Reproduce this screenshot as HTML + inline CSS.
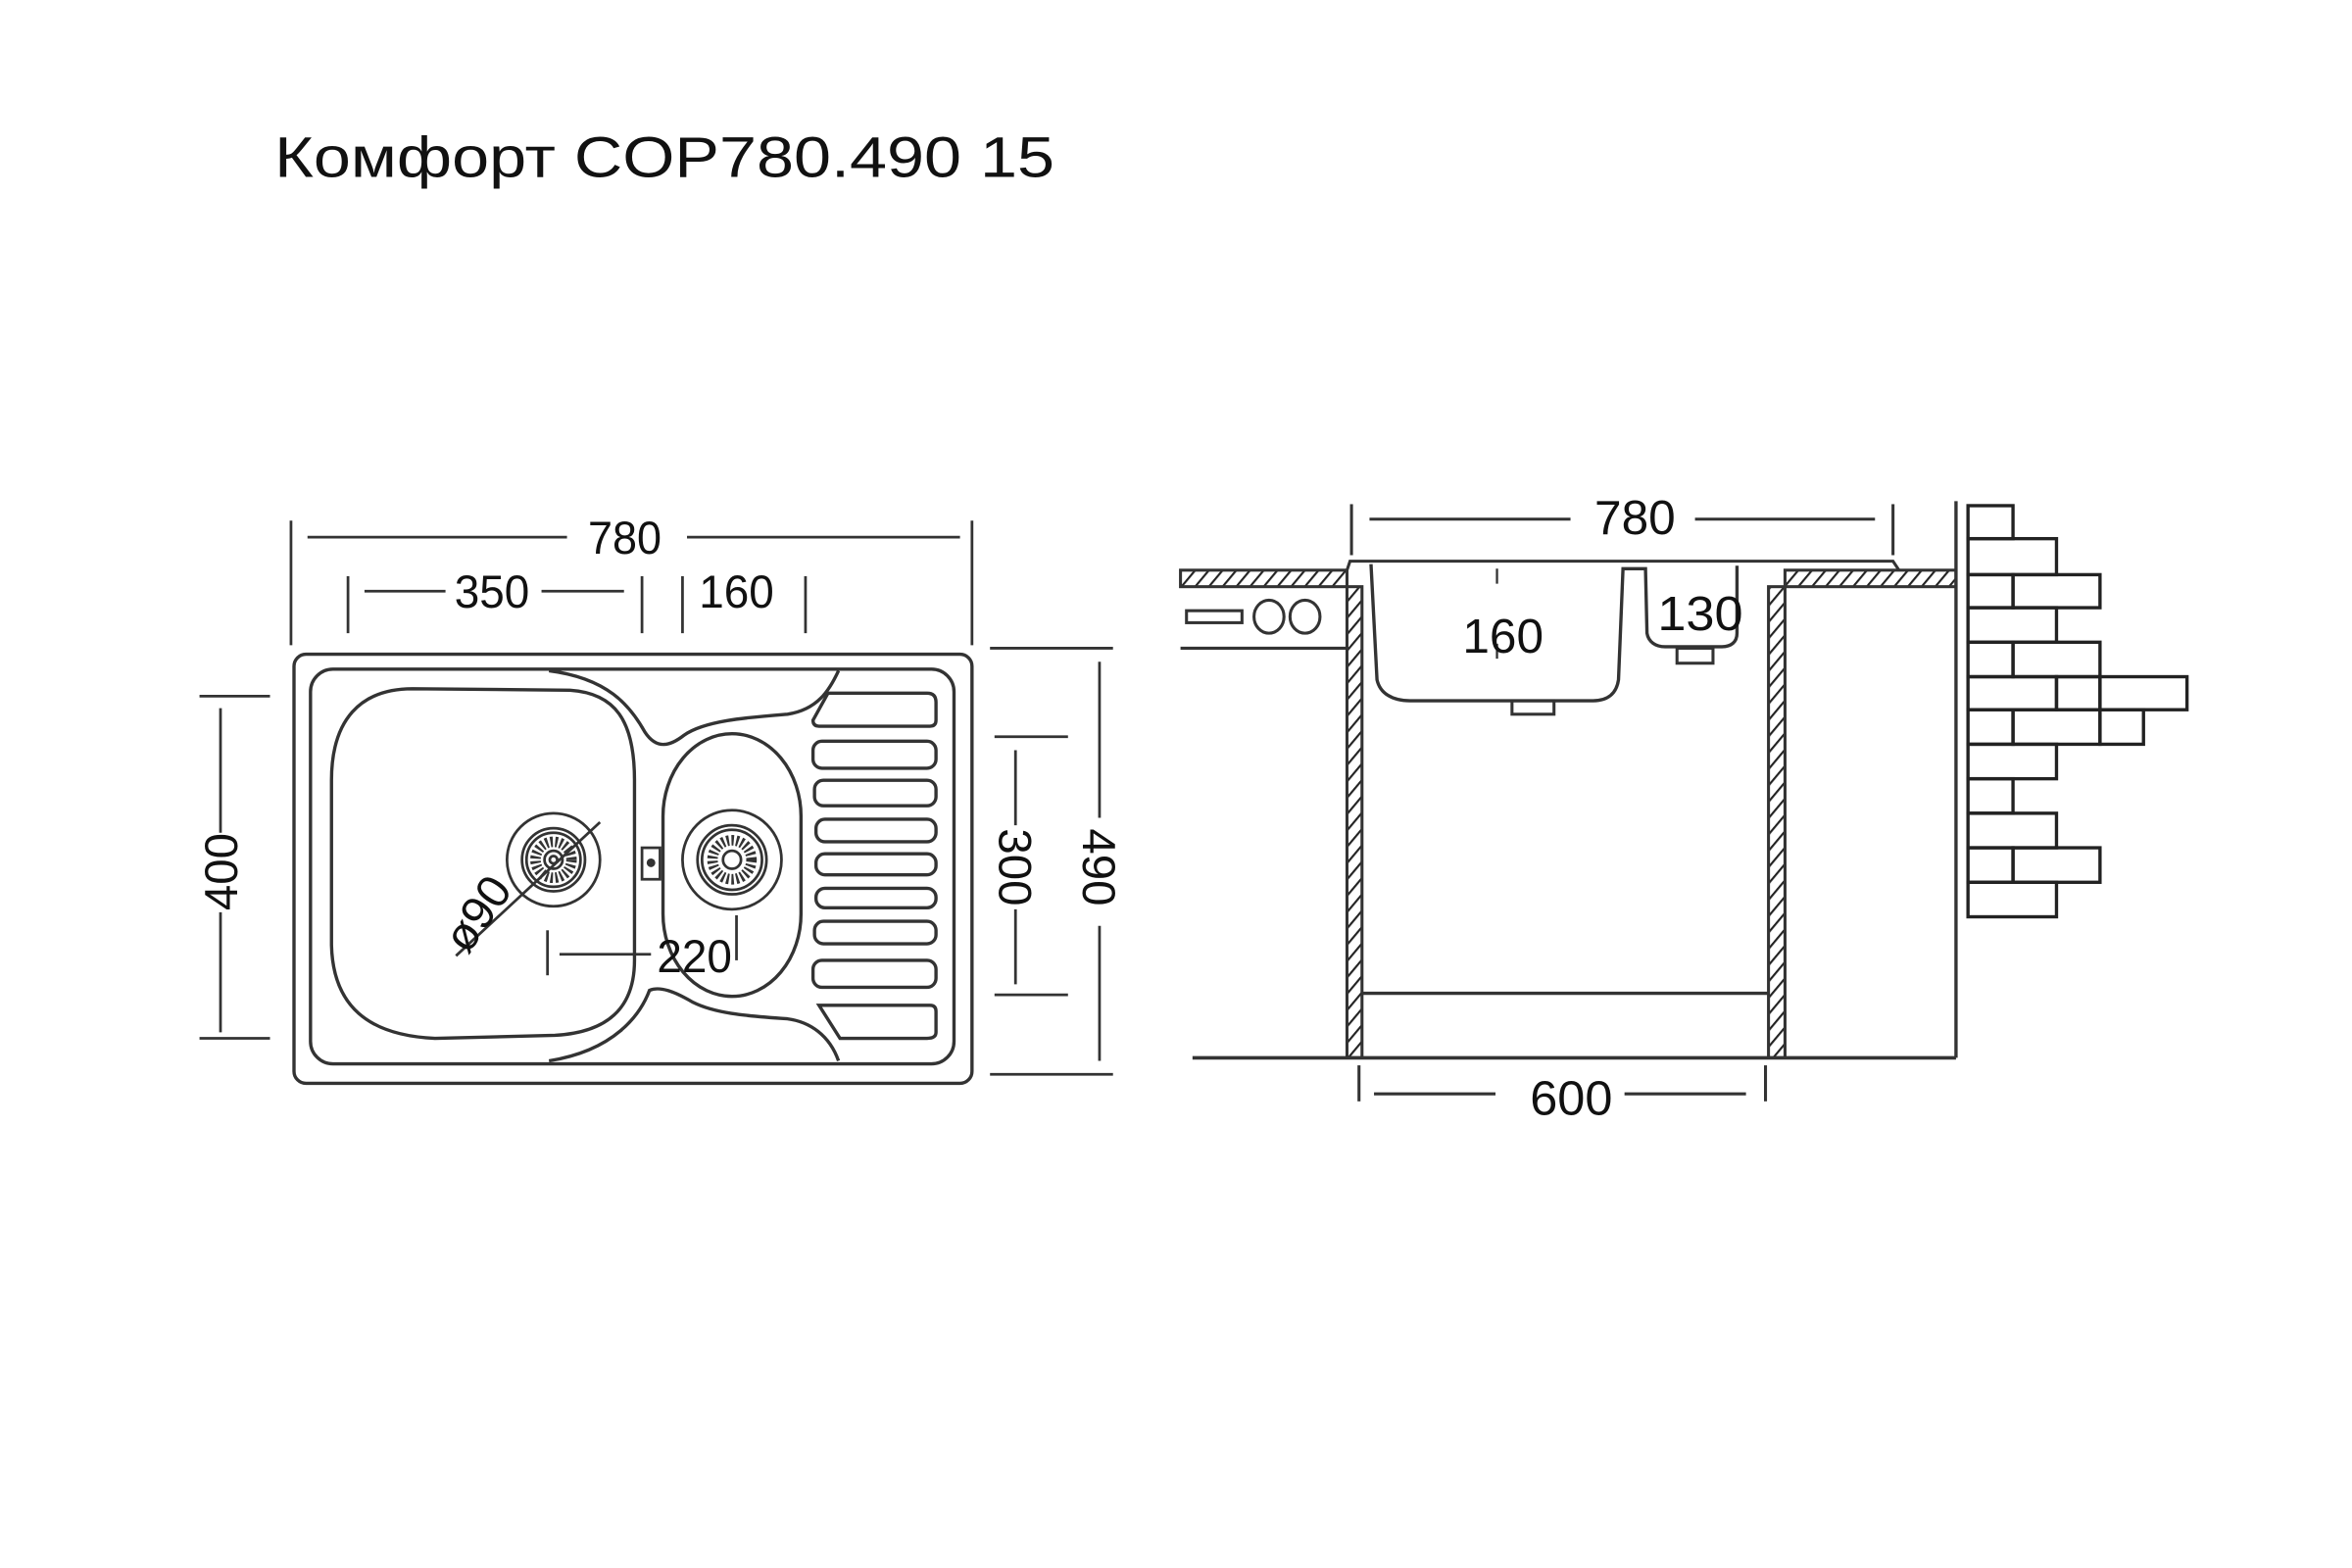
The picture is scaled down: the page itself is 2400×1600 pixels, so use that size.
<!DOCTYPE html>
<html><head><meta charset="utf-8"><style>
html,body{margin:0;padding:0;background:#fff;}
svg{display:block;}
text{font-family:"Liberation Sans",sans-serif;fill:#111;}
</style></head><body>
<svg width="2400" height="1600" viewBox="0 0 1568 1045" preserveAspectRatio="none" xmlns="http://www.w3.org/2000/svg">
<defs>
<pattern id="h" width="7" height="7" patternUnits="userSpaceOnUse" patternTransform="rotate(40)">
<line x1="0" y1="0" x2="0" y2="7" stroke="#222" stroke-width="2.8"/>
</pattern>
</defs>
<text x="183" y="118" font-size="38" textLength="520" lengthAdjust="spacingAndGlyphs">Комфорт COP780.490 15</text>

<!-- LEFT VIEW -->
<g stroke="#333" stroke-width="1.8" fill="none">
<line x1="194" y1="347" x2="194" y2="430"/><line x1="648" y1="347" x2="648" y2="430"/>
<line x1="205" y1="358" x2="378" y2="358"/><line x1="458" y1="358" x2="640" y2="358"/>
<line x1="232" y1="384" x2="232" y2="422"/><line x1="428" y1="384" x2="428" y2="422"/>
<line x1="455" y1="384" x2="455" y2="422"/><line x1="537" y1="384" x2="537" y2="422"/>
<line x1="243" y1="394" x2="297" y2="394"/><line x1="361" y1="394" x2="416" y2="394"/>
<line x1="133" y1="464" x2="180" y2="464"/><line x1="133" y1="692" x2="180" y2="692"/>
<line x1="147" y1="472" x2="147" y2="555"/><line x1="147" y1="608" x2="147" y2="688"/>
<line x1="663" y1="491" x2="712" y2="491"/><line x1="663" y1="663" x2="712" y2="663"/>
<line x1="677" y1="500" x2="677" y2="550"/><line x1="677" y1="606" x2="677" y2="656"/>
<line x1="660" y1="432" x2="742" y2="432"/><line x1="660" y1="716" x2="742" y2="716"/>
<line x1="733" y1="441" x2="733" y2="545"/><line x1="733" y1="617" x2="733" y2="707"/>
<!-- sink -->
<rect x="196" y="436" width="452" height="286" rx="8" stroke-width="2.2"/>
<rect x="207" y="446" width="429" height="263" rx="15" stroke-width="2.2"/>
<path d="M366,447 C405,452 420,470 430,488 C438,500 447,497 456,490 C470,480 500,478 525,476 C545,473 553,460 559,447" stroke-width="2.2"/>
<path d="M559,707 C553,690 540,681 525,679 C495,677 476,675 462,668 C450,661 440,657 433,660 C427,676 410,700 366,707" stroke-width="2.2"/>
<path d="M275,459 L380,460 C410,462 423,480 423,520 L423,640 C423,672 405,688 370,690 L290,692 C245,690 222,670 221,630 L221,520 C221,480 240,459 275,459 Z" stroke-width="2.2"/>
<rect x="442" y="489" width="92" height="175" rx="46" ry="55" stroke-width="2.2"/>
<!-- drains -->
<circle cx="369" cy="573" r="31"/><circle cx="369" cy="573" r="21"/><circle cx="369" cy="573" r="18"/>
<circle cx="369" cy="573" r="12" stroke-width="7" stroke-dasharray="1.6 1.6"/>
<circle cx="369" cy="573" r="6"/><circle cx="369" cy="573" r="2.5"/>
<circle cx="488" cy="573" r="33"/><circle cx="488" cy="573" r="23"/><circle cx="488" cy="573" r="20"/>
<circle cx="488" cy="573" r="13" stroke-width="7" stroke-dasharray="1.6 1.6"/>
<circle cx="488" cy="573" r="6"/>
<rect x="428" y="565" width="12" height="21"/><circle cx="434" cy="575" r="2" fill="#333"/>
<line x1="304" y1="637" x2="400" y2="548"/>
<line x1="365" y1="620" x2="365" y2="650"/><line x1="491" y1="610" x2="491" y2="640"/>
<line x1="373" y1="636" x2="434" y2="636"/>
<!-- ribs -->
<path d="M552,462 L618,462 Q624,462 624,468 L624,480 Q624,484 620,484 L546,484 Q542,484 542,480 Z" stroke-width="2.2"/>
<rect x="542" y="494" width="82" height="18" rx="6" stroke-width="2.2"/>
<rect x="543" y="520" width="81" height="17" rx="6" stroke-width="2.2"/>
<rect x="544" y="546" width="80" height="15" rx="6" stroke-width="2.2"/>
<rect x="544" y="569" width="80" height="14" rx="6" stroke-width="2.2"/>
<rect x="544" y="592" width="80" height="13" rx="6" stroke-width="2.2"/>
<rect x="543" y="614" width="81" height="15" rx="6" stroke-width="2.2"/>
<rect x="542" y="640" width="82" height="18" rx="6" stroke-width="2.2"/>
<path d="M546,670 L620,670 Q624,670 624,674 L624,688 Q624,692 618,692 L560,692 Z" stroke-width="2.2"/>
</g>
<g font-size="31">
<text x="392" y="369" textLength="49" lengthAdjust="spacingAndGlyphs">780</text>
<text x="303" y="405" textLength="50" lengthAdjust="spacingAndGlyphs">350</text>
<text x="466" y="405" textLength="50" lengthAdjust="spacingAndGlyphs">160</text>
<text x="438" y="648" textLength="50" lengthAdjust="spacingAndGlyphs">220</text>
<text transform="translate(158,581) rotate(-90)" text-anchor="middle">400</text>
<text transform="translate(666,578) rotate(90)" text-anchor="middle">300</text>
<text transform="translate(722,578) rotate(90)" text-anchor="middle">490</text>
<text transform="translate(327,615) rotate(-55)" text-anchor="middle">ø90</text>
</g>

<!-- RIGHT VIEW -->
<g stroke="#333" stroke-width="2" fill="none">
<line x1="901" y1="336" x2="901" y2="370"/><line x1="1262" y1="336" x2="1262" y2="370"/>
<line x1="913" y1="346" x2="1047" y2="346"/><line x1="1130" y1="346" x2="1250" y2="346"/>
<rect x="787" y="380" width="111" height="11" fill="url(#h)"/>
<rect x="1190" y="380" width="114" height="11" fill="url(#h)"/>
<rect x="898" y="391" width="10" height="314" fill="url(#h)"/>
<rect x="1179" y="391" width="11" height="314" fill="url(#h)"/>
<path d="M898,380 L900,374 L1262,374 L1266,380" stroke-width="2"/>
<line x1="787" y1="432" x2="898" y2="432"/>
<rect x="791" y="407" width="37" height="8" stroke-width="2"/>
<ellipse cx="846" cy="411" rx="10" ry="11"/><ellipse cx="870" cy="411" rx="10" ry="11"/>
<line x1="795" y1="705" x2="1304" y2="705" stroke-width="2.4"/>
<line x1="908" y1="662" x2="1179" y2="662" stroke-width="2.2"/>
<line x1="1304" y1="334" x2="1304" y2="705" stroke-width="2.2"/>
<path d="M914,376 L918,453 C920,462 928,467 940,467 L1062,467 C1074,467 1078,460 1079,453 L1082,379 L1097,379 L1098,422 C1099,428 1104,431 1110,431 L1148,431 C1154,431 1158,428 1158,422 L1158,377" stroke-width="2.2"/>
<rect x="1008" y="467" width="28" height="9"/>
<rect x="1118" y="432" width="24" height="10"/>
<line x1="998" y1="379" x2="998" y2="461" stroke-dasharray="10 40" stroke-width="1.5"/>
<line x1="906" y1="710" x2="906" y2="734"/><line x1="1177" y1="710" x2="1177" y2="734"/>
<line x1="916" y1="729" x2="997" y2="729"/><line x1="1083" y1="729" x2="1164" y2="729"/>
</g>
<g stroke="#222" stroke-width="2.2" fill="none">
<rect x="1312" y="337" width="30" height="22"/>
<rect x="1312" y="359" width="59" height="24"/>
<rect x="1312" y="383" width="30" height="22"/><rect x="1342" y="383" width="58" height="22"/>
<rect x="1312" y="405" width="59" height="23"/>
<rect x="1312" y="428" width="30" height="23"/><rect x="1342" y="428" width="58" height="23"/>
<rect x="1312" y="451" width="59" height="22"/><rect x="1371" y="451" width="29" height="22"/><rect x="1400" y="451" width="58" height="22"/>
<rect x="1312" y="473" width="30" height="23"/><rect x="1342" y="473" width="58" height="23"/><rect x="1400" y="473" width="29" height="23"/>
<rect x="1312" y="496" width="59" height="23"/>
<rect x="1312" y="519" width="30" height="23"/>
<rect x="1312" y="542" width="59" height="23"/>
<rect x="1312" y="565" width="30" height="23"/><rect x="1342" y="565" width="58" height="23"/>
<rect x="1312" y="588" width="59" height="23"/>
</g>
<g font-size="32">
<text x="1063" y="356" textLength="54" lengthAdjust="spacingAndGlyphs">780</text>
<text x="975" y="435" textLength="54" lengthAdjust="spacingAndGlyphs">160</text>
<text x="1105" y="420" textLength="57" lengthAdjust="spacingAndGlyphs">130</text>
<text x="1020" y="743" textLength="55" lengthAdjust="spacingAndGlyphs">600</text>
</g>
</svg>
</body></html>
